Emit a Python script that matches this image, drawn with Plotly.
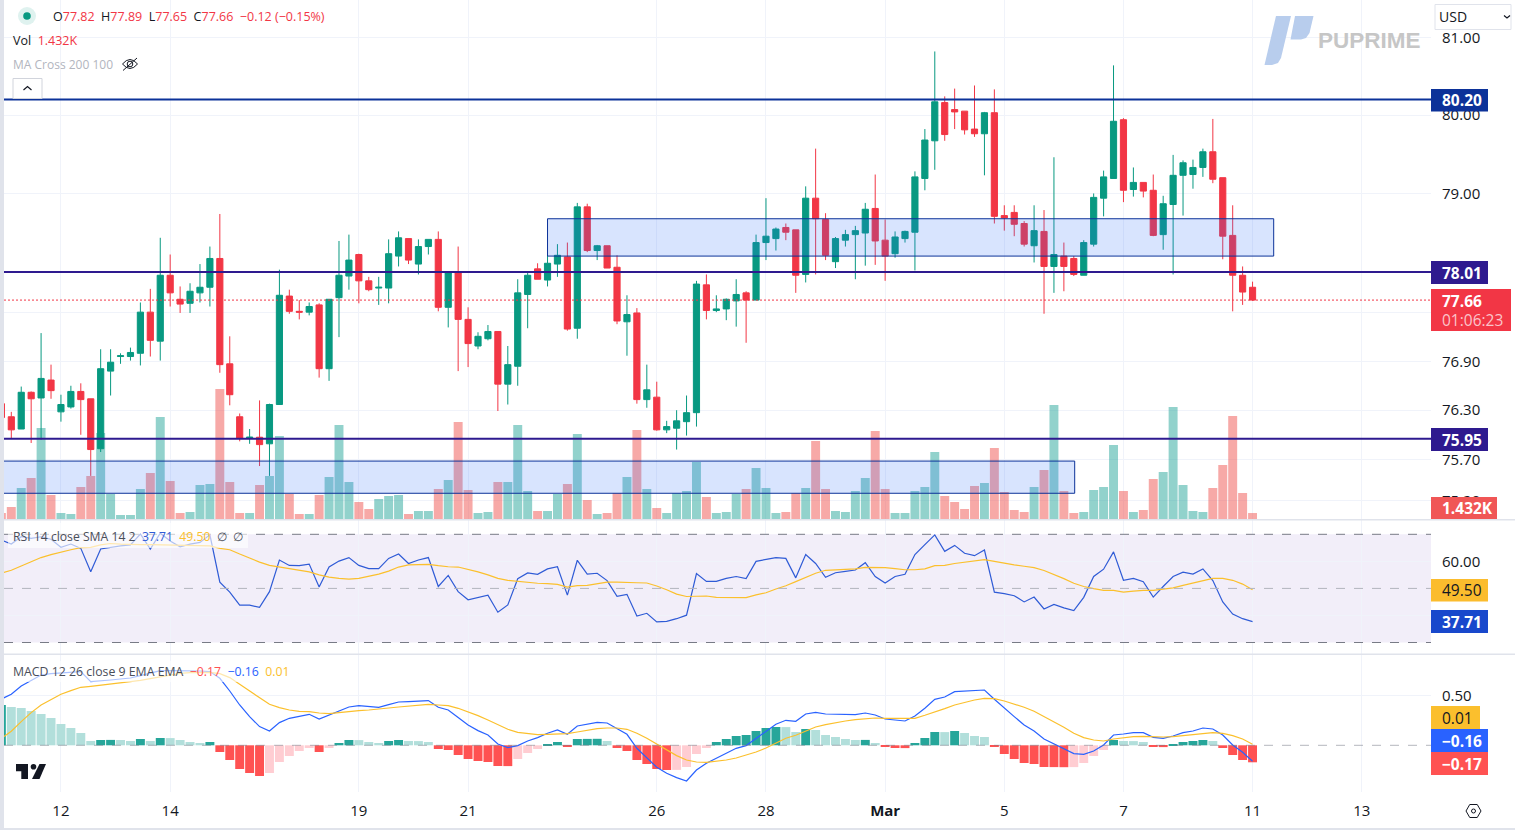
import math
import plotly.graph_objects as go

tick_idx = [5, 16, 35, 46, 65, 76, 88, 100, 112, 125, 136]
tick_txt = ["12", "14", "19", "21", "26", "28", "<b>Mar</b>", "5", "7", "11", "13"]

opens = [76.38,76.22,76.07,76.52,76.45,76.67,76.28,76.34,76.53,76.44,
 75.83,76.78,76.96,76.96,77.00,77.51,77.15,77.97,77.67,77.62,
 77.75,77.82,78.18,76.87,76.22,75.96,75.97,75.89,76.37,77.71,
 77.52,77.51,77.60,76.81,77.69,77.96,78.23,77.90,77.81,77.81,
 78.21,78.43,78.11,78.33,78.42,77.57,78.00,77.42,77.09,77.18,
 77.27,76.62,76.84,77.73,78.05,77.91,78.11,78.20,77.31,78.83,
 78.28,78.34,78.07,77.39,77.50,76.43,76.46,76.06,76.08,76.16,
 76.27,77.85,77.53,77.55,77.65,77.75,77.66,78.38,78.43,78.57,
 78.54,77.98,78.94,78.67,78.14,78.41,78.48,78.50,78.81,78.41,
 78.24,78.43,78.51,79.19,79.67,80.16,80.07,80.05,79.82,79.76,
 80.03,78.72,78.76,78.62,78.34,78.52,78.08,78.21,78.18,77.97,
 78.36,78.94,79.19,79.94,79.05,79.14,79.04,78.48,78.86,79.23,
 79.24,79.33,79.53,79.20,78.47,77.97,77.82]
highs = [76.40,76.28,76.59,76.53,77.25,76.86,76.49,76.60,76.63,76.44,
 77.05,77.05,77.00,77.07,77.63,77.80,78.44,78.23,77.83,77.87,
 78.11,78.33,78.74,77.21,76.26,76.07,76.42,76.38,78.04,77.79,
 77.66,77.63,77.62,77.67,78.40,78.48,78.24,77.95,77.95,78.42,
 78.52,78.43,78.42,78.42,78.52,78.02,78.33,77.57,77.26,77.35,
 77.27,77.09,77.92,78.02,78.12,78.22,78.36,78.38,78.88,78.87,
 78.35,78.34,78.22,77.72,77.56,76.86,76.65,76.17,76.30,76.48,
 77.90,77.98,77.72,77.68,77.92,77.77,78.48,78.94,78.57,78.62,
 78.54,79.09,79.57,78.75,78.45,78.54,78.59,78.88,79.24,78.67,
 78.52,78.53,79.28,79.82,80.82,80.24,80.34,80.05,80.38,80.04,
 80.33,78.85,78.85,78.65,78.85,78.79,79.46,78.38,78.21,78.41,
 79.00,79.29,80.64,79.96,79.33,79.14,79.24,78.97,79.49,79.42,
 79.43,79.57,79.95,79.20,78.85,78.08,77.89]
lows = [76.19,75.95,76.07,75.90,75.94,76.44,76.16,76.32,76.00,75.50,
 75.79,76.48,76.87,76.91,76.85,76.96,76.91,77.58,77.50,77.50,
 77.63,77.58,76.76,76.36,75.92,75.89,75.62,75.50,76.37,77.49,
 77.42,77.47,76.70,76.66,77.20,77.79,77.62,77.77,77.60,77.62,
 78.08,78.11,77.98,78.23,77.52,77.32,76.78,76.83,77.05,77.16,
 76.29,76.37,76.60,77.31,77.92,77.83,77.95,77.28,77.18,78.26,
 78.16,78.06,77.36,76.97,76.38,76.33,76.05,76.02,75.82,75.99,
 76.10,77.42,77.51,77.41,77.33,77.13,77.66,78.16,78.28,78.41,
 77.75,77.88,77.98,78.16,78.06,78.33,77.92,78.09,78.10,77.90,
 78.19,78.38,78.03,79.04,79.30,79.67,79.82,79.75,79.72,79.23,
 78.62,78.53,78.46,78.33,78.13,77.49,77.75,77.77,77.96,77.97,
 78.33,78.71,79.19,78.89,78.96,78.95,78.46,78.29,77.98,78.72,
 79.06,79.21,79.13,78.17,77.52,77.60,77.65]
closes = [76.21,76.06,76.52,76.44,76.69,76.54,76.37,76.53,76.43,75.82,
 76.81,76.89,76.97,77.01,77.51,77.16,77.97,77.75,77.61,77.77,
 77.82,78.18,76.86,76.49,75.96,75.97,75.88,76.37,77.72,77.52,
 77.51,77.58,76.81,77.67,77.97,78.16,77.90,77.79,77.82,78.24,
 78.44,78.16,78.33,78.42,77.57,78.00,77.42,77.12,77.21,77.27,
 76.62,76.86,77.75,77.97,77.92,78.12,78.22,77.30,78.83,78.28,
 78.34,78.06,77.40,77.48,76.43,76.55,76.06,76.10,76.17,76.27,
 77.86,77.53,77.55,77.67,77.73,77.66,78.38,78.46,78.55,78.51,
 77.97,78.94,78.68,78.22,78.43,78.48,78.53,78.80,78.40,78.21,
 78.45,78.52,79.21,79.68,80.17,79.75,80.04,79.81,79.76,80.03,
 78.71,78.69,78.61,78.36,78.53,78.08,78.23,78.08,77.98,78.38,
 78.95,79.21,79.92,79.04,79.14,79.03,78.47,78.87,79.23,79.39,
 79.33,79.53,79.18,78.46,77.97,77.76,77.66]
volumes = [1.44,2.88,7.44,9.84,21.84,5.76,1.44,1.2,7.68,10.32,
 20.64,6.0,0.96,0.96,7.2,11.04,24.48,9.12,1.44,1.68,
 8.16,8.4,31.2,8.88,1.44,1.44,8.16,10.32,19.92,6.0,
 1.2,1.2,5.76,10.08,22.56,8.88,4.08,2.4,4.8,5.52,
 5.76,1.2,1.92,1.92,7.2,9.36,23.28,6.96,1.44,1.68,
 8.88,8.88,22.56,6.72,1.92,1.92,6.0,8.4,20.4,4.56,
 1.2,1.44,6.24,10.08,21.36,7.2,2.64,1.44,6.24,6.72,
 13.68,5.28,1.44,1.68,6.0,7.2,12.24,7.44,1.44,1.68,
 6.24,7.44,18.72,7.2,1.92,1.68,6.72,9.84,21.12,7.2,
 1.44,1.44,6.72,7.68,16.08,5.52,4.08,2.4,7.92,8.64,
 17.04,6.48,2.16,1.68,7.68,11.76,27.36,6.72,1.44,1.68,
 6.96,7.68,17.76,6.72,1.68,2.16,9.6,11.28,26.88,8.16,
 1.92,1.68,7.44,12.96,24.72,6.24,1.432]
rsi = [67.9,66.4,69.1,68.5,69.1,68.2,65.2,66.4,64.8,56.2,
 64.6,65.2,65.7,66.1,70.1,64.5,70.4,67.5,65.4,66.4,
 67.0,69.8,52.3,48.6,43.8,43.8,43.0,48.8,60.5,58.5,
 58.4,59.0,50.5,57.9,60.1,61.4,58.5,57.3,57.3,61.1,
 62.7,59.2,60.5,61.4,50.7,54.8,48.8,45.8,46.7,47.5,
 41.2,43.9,53.6,55.7,55.2,57.2,58.0,47.5,60.4,55.3,
 55.6,52.9,47.1,47.8,39.8,40.8,37.6,37.8,38.8,40.1,
 55.5,52.6,52.6,53.7,54.4,53.6,60.0,60.6,61.4,61.1,
 53.9,62.5,59.2,54.1,55.8,56.3,56.8,59.5,54.4,52.0,
 54.4,55.2,62.5,66.2,69.8,63.7,65.9,63.0,62.1,64.2,
 48.6,48.1,47.3,45.0,46.8,42.4,44.1,42.8,41.8,46.7,
 54.4,57.1,63.5,53.0,53.7,52.5,46.8,50.7,54.4,56.0,
 55.3,57.2,52.9,45.0,40.5,38.8,37.71]
rsi_ma = [55.6,56.7,58.3,59.9,61.4,62.5,63.5,64.3,65.1,65.2,
 66.1,66.6,66.4,66.2,66.2,66.2,66.1,66.1,65.8,65.8,
 65.8,65.7,64.8,64.3,62.7,61.1,59.7,58.5,57.9,57.3,
 56.7,56.1,55.0,54.2,53.7,53.4,53.7,54.4,55.3,56.4,
 57.9,58.7,58.8,58.9,58.4,58.0,57.9,57.1,56.1,55.0,
 53.7,53.0,52.6,52.3,51.9,51.8,51.5,50.5,51.0,51.1,
 51.6,52.3,52.3,52.3,52.1,52.0,50.9,49.5,47.9,47.0,
 47.1,47.2,46.7,46.6,46.6,46.6,47.6,48.4,49.8,51.0,
 52.5,54.1,55.6,56.7,56.8,56.9,57.2,57.8,57.8,57.7,
 57.3,56.9,56.9,57.2,58.4,58.5,59.2,59.7,60.3,60.6,
 60.0,59.3,58.7,58.2,57.7,56.6,55.2,53.6,51.9,50.7,
 49.9,49.3,49.3,48.6,49.0,49.3,49.3,49.7,50.2,51.1,
 52.0,52.9,53.7,53.7,53.0,51.6,49.5]
macd_hist = [.403,.383,.373,.343,.313,.273,.213,.173,.123,.043,
 .053,.054,.053,.043,.063,.043,.073,.072,.053,.033,
 .023,.033,-.067,-.147,-.237,-.277,-.307,-.277,-.167,-.107,
 -.057,-.027,-.067,-.027,.023,.053,.052,.033,.023,.043,
 .053,.043,.042,.033,-.037,-.047,-.097,-.137,-.157,-.167,
 -.207,-.208,-.137,-.077,-.037,.010,.033,-.017,.063,.064,
 .065,.043,-.027,-.057,-.147,-.187,-.237,-.247,-.246,-.217,
 -.087,-.027,.033,.063,.093,.103,.143,.173,.183,.182,
 .133,.163,.153,.103,.083,.063,.053,.054,.023,-.017,
 -.027,-.028,.023,.073,.133,.132,.143,.123,.093,.083,
 -.017,-.087,-.137,-.177,-.187,-.217,-.218,-.219,-.218,-.177,
 -.107,-.047,.053,.043,.042,.033,-.017,-.018,.013,.033,
 .043,.053,.043,-.027,-.097,-.147,-.17]
macd_line = [.463,.510,.593,.650,.703,.717,.723,.730,.737,.637,
 .643,.653,.663,.673,.697,.720,.747,.747,.747,.747,
 .743,.737,.670,.543,.403,.287,.187,.143,.227,.270,
 .293,.310,.263,.303,.343,.383,.397,.390,.380,.407,
 .433,.437,.440,.447,.380,.353,.277,.203,.147,.103,
 .013,-.023,-.003,.043,.077,.120,.153,.110,.193,.213,
 .230,.223,.163,.110,-.030,-.123,-.220,-.280,-.323,-.357,
 -.247,-.180,-.130,-.073,-.030,-.003,.070,.137,.210,.250,
 .240,.313,.330,.313,.310,.307,.307,.323,.303,.263,
 .250,.243,.293,.370,.460,.483,.537,.543,.543,.553,
 .460,.370,.287,.203,.143,.063,.017,-.033,-.083,-.090,
 -.057,.003,.103,.113,.127,.127,.080,.070,.093,.127,
 .143,.173,.163,.103,.003,-.070,-.16]
macd_signal = [.070,.140,.237,.327,.403,.460,.510,.547,.580,.590,
 .600,.610,.623,.637,.650,.667,.683,.703,.720,.727,
 .730,.730,.717,.677,.610,.543,.470,.410,.377,.353,
 .340,.337,.323,.317,.327,.340,.347,.353,.360,.373,
 .383,.393,.403,.410,.403,.397,.370,.337,.297,.253,
 .203,.160,.130,.117,.107,.110,.117,.117,.133,.150,
 .167,.173,.173,.160,.120,.070,.010,-.047,-.103,-.147,
 -.167,-.170,-.160,-.147,-.127,-.100,-.067,-.027,.020,.070,
 .100,.143,.183,.207,.227,.243,.257,.267,.273,.270,
 .270,.267,.270,.300,.330,.367,.403,.430,.453,.470,
 .467,.443,.413,.380,.340,.287,.240,.180,.120,.077,
 .053,.043,.063,.077,.087,.090,.083,.083,.087,.097,
 .107,.117,.127,.120,.097,.063,.01]

for arr in (opens, highs, lows, closes, volumes, rsi, rsi_ma, macd_hist, macd_line, macd_signal):
    assert len(arr) == 127, len(arr)

idx = list(range(-1, 126))
price_ticks = [81, 80, 79, 78, 77.5, 76.9, 76.3, 75.7, 75.2]
price_tick_text = ["81.00", "80.00", "79.00", "", "", "76.90", "76.30", "75.70", "75.20"]
level_top, level_mid, level_low, last_price = 80.20, 78.01, 75.95, 77.66
zone_upper = (54, 127.13, 78.21, 78.68)
zone_lower = (-1, 107.09, 75.29, 75.68)

W, H = 1515, 830
FONT = "Open Sans"
px = lambda x: x / W
py = lambda y: 1 - y / H
PANE_R = 1431

GREEN, RED = "#089981", "#F23645"
vol_colors = ["rgba(38,166,154,0.5)" if c >= o else "rgba(239,83,80,0.5)" for o, c in zip(opens, closes)]
hist_colors = []
for k, v in enumerate(macd_hist):
    prev = macd_hist[k - 1] if k else v - 1
    if v >= 0:
        hist_colors.append("#26A69A" if v > prev else "#B2DFDB")
    else:
        hist_colors.append("#FFCDD2" if v > prev else "#FF5252")

fig = go.Figure()
fig.add_trace(go.Bar(x=idx, y=volumes, marker=dict(color=vol_colors, line_width=0), width=0.9, xaxis="x", yaxis="y"))
fig.add_trace(go.Candlestick(x=idx, open=opens, high=highs, low=lows, close=closes, xaxis="x", yaxis="y2",
    increasing=dict(line=dict(color=GREEN, width=1), fillcolor=GREEN),
    decreasing=dict(line=dict(color=RED, width=1), fillcolor=RED), whiskerwidth=0))
fig.add_trace(go.Scatter(x=idx, y=rsi, mode="lines", line=dict(color="#2F5BD6", width=1.2), xaxis="x2", yaxis="y3"))
fig.add_trace(go.Scatter(x=idx, y=rsi_ma, mode="lines", line=dict(color="#FBC02D", width=1.2), xaxis="x2", yaxis="y3"))
fig.add_trace(go.Bar(x=idx, y=macd_hist, marker=dict(color=hist_colors, line_width=0), width=0.9, xaxis="x3", yaxis="y4"))
fig.add_trace(go.Scatter(x=idx, y=macd_line, mode="lines", line=dict(color="#2962FF", width=1.2), xaxis="x3", yaxis="y4"))
fig.add_trace(go.Scatter(x=idx, y=macd_signal, mode="lines", line=dict(color="#FBC02D", width=1.2), xaxis="x3", yaxis="y4"))

shapes, ann = [], []

def box(x0, y0, x1, y1, fill, line="rgba(0,0,0,0)", lw=0, layer="above"):
    shapes.append(dict(type="rect", xref="paper", yref="paper", x0=px(x0), x1=px(x1), y0=py(y1), y1=py(y0),
                       fillcolor=fill, line=dict(color=line, width=lw), layer=layer))

def poly(points, fill=None, line=None, lw=1, close=True):
    d = "M " + " L ".join(f"{px(a):.5f} {py(b):.5f}" for a, b in points) + (" Z" if close else "")
    shapes.append(dict(type="path", xref="paper", yref="paper", path=d, fillcolor=fill or "rgba(0,0,0,0)",
                       line=dict(color=line or "rgba(0,0,0,0)", width=lw if line else 0), layer="above"))

def circle(cx, cy, r, fill=None, line=None, lw=1):
    shapes.append(dict(type="circle", xref="paper", yref="paper", x0=px(cx - r), x1=px(cx + r), y0=py(cy + r), y1=py(cy - r),
                       fillcolor=fill or "rgba(0,0,0,0)", line=dict(color=line or "rgba(0,0,0,0)", width=lw if line else 0), layer="above"))

def text(x, y, s, size=12, color="#131722", anchor="left", family=FONT):
    ann.append(dict(xref="paper", yref="paper", x=px(x), y=py(y), text=s, showarrow=False, xanchor=anchor, yanchor="middle",
                    borderpad=0, borderwidth=0, font=dict(family=family, size=size, color=color), align="left"))

def hline(y, color, width, dash="solid", yref="y2", x1=PANE_R):
    shapes.append(dict(type="line", xref="paper", yref=yref, x0=px(4), x1=px(x1), y0=y, y1=y,
                       line=dict(color=color, width=width, dash=dash), layer="above"))

def tag(x1, y0, y1, color, label, fg="#FFFFFF", size=15.5):
    box(PANE_R, y0, x1, y1, color)
    text(1442, (y0 + y1) / 2, f"<b>{label}</b>" if fg == "#FFFFFF" else label, size=size, color=fg)

# RSI band and reference levels
shapes.append(dict(type="rect", xref="paper", yref="y3", x0=px(4), x1=px(PANE_R), y0=30, y1=70,
                   fillcolor="rgba(126,87,194,0.1)", line_width=0, layer="below"))
hline(70, "#787B86", 1, "dash", "y3")
hline(30, "#787B86", 1, "dash", "y3")
hline(50, "#B2B5BE", 1, "dash", "y3")
hline(0, "rgba(120,123,134,0.55)", 1, "dash", "y4")

# zones and price levels
for z in (zone_upper, zone_lower):
    shapes.append(dict(type="rect", xref="x", yref="y2", x0=z[0], x1=z[1], y0=z[2], y1=z[3],
                       fillcolor="rgba(50,110,250,0.19)", line=dict(color="#0C3299", width=1), layer="above"))
hline(last_price, RED, 1, "2px,2px")
hline(level_top, "#0C3299", 2)
hline(level_mid, "#2E1A8F", 2)
hline(level_low, "#2E1A8F", 2)

# frame
box(0, 0, 4, H, "#E0E3EB")
box(4, 519, W, 520.5, "#E0E3EB")
box(4, 653.5, W, 655, "#E0E3EB")
box(0, 828, W, H, "#E0E3EB")

# right-side tags
tag(1488, 89, 111.5, "#0C3299", "80.20")
tag(1488, 261, 284, "#2E1A8F", "78.01")
box(PANE_R, 289, 1511, 331, RED)
text(1442, 301, "<b>77.66</b>", size=15.5, color="#FFFFFF")
text(1442, 320, "01:06:23", size=15.5, color="#FBC4CA")
tag(1488, 428, 451, "#2E1A8F", "75.95")
tag(1497, 497, 519, "#F05656", "1.432K")
tag(1488, 579, 601.5, "#FBBC2D", "49.50", fg="#131722")
tag(1488, 610, 633, "#1848CC", "37.71")
tag(1480, 706, 729, "#FBBF2D", "0.01", fg="#131722")
tag(1488, 729, 752, "#2962FF", "\u22120.16")
tag(1488, 752, 775, "#FF5252", "\u22120.17")

# header
circle(27, 16, 9, fill="rgba(8,153,129,0.13)")
circle(27, 16, 3.8, fill=GREEN)
r = '<span style="color:#F23645">'
text(53, 16, f"O{r}77.82</span>  H{r}77.89</span>  L{r}77.65</span>  C{r}77.66</span>  {r}\u22120.12 (\u22120.15%)</span>", size=12.5, color="#131722")
text(13, 40, f"Vol  {r}1.432K</span>", size=12.5, color="#131722")
text(13, 64, "MA Cross 200 100", size=12, color="#B2B5BE")
shapes.append(dict(type="path", xref="paper", yref="paper", layer="above", line=dict(color="#131722", width=1),
    path=f"M {px(122.5):.5f} {py(64):.5f} Q {px(130):.5f} {py(55):.5f} {px(137.5):.5f} {py(64):.5f} Q {px(130):.5f} {py(73):.5f} {px(122.5):.5f} {py(64):.5f} Z"))
circle(130, 64, 2.8, line="#131722")
poly([(123, 70.5), (137, 58)], line="#131722", close=False)
shapes.append(dict(type="rect", xref="paper", yref="paper", x0=px(13), x1=px(42), y0=py(98.5), y1=py(78.5), fillcolor="#FFFFFF",
                   line=dict(color="#D1D4DC", width=1), layer="above"))
poly([(23.5, 90), (27.5, 86.5), (31.5, 90)], line="#131722", lw=1.2, close=False)

# USD selector
shapes.append(dict(type="rect", xref="paper", yref="paper", x0=px(1435), x1=px(1511), y0=py(29.5), y1=py(4.5), fillcolor="#FFFFFF",
                   line=dict(color="#E0E3EB", width=1), layer="above"))
text(1439, 17, "USD", size=14, color="#131722")
poly([(1504, 15.5), (1507, 18), (1510, 15.5)], line="#131722", lw=1.2, close=False)

# brand mark
poly([(1276, 16), (1264.5, 65), (1272, 65), (1278, 63), (1281, 58), (1291, 16)], fill="#B8CDED")
poly([(1295, 16), (1313.5, 16), (1309.5, 33), (1306, 38), (1301, 39.5), (1290.5, 39.5)], fill="#B8CDED")
text(1318, 40, "<b>PUPRIME</b>", size=22.5, color="#C6C6C6", family="Liberation Sans")

# RSI legend
box(8, 523, 248, 548, "rgba(255,255,255,0.62)")
text(13, 536, 'RSI 14 close SMA 14 2  <span style="color:#2F5BD6">37.71</span>  <span style="color:#FBC02D">49.50</span>  \u2205  \u2205', size=12.2, color="#4A4E59")
# MACD legend
box(8, 661, 292, 682, "rgba(255,255,255,0.62)")
text(13, 671, 'MACD 12 26 close 9 EMA EMA  <span style="color:#FF5252">\u22120.17</span>  <span style="color:#2962FF">\u22120.16</span>  <span style="color:#FBC02D">0.01</span>', size=12.3, color="#4A4E59")

# chart vendor mark
poly([(16, 764), (28, 764), (28, 779), (21.3, 779), (21.3, 771.3), (16, 771.3)], fill="#131722")
circle(33.5, 766.8, 2.8, fill="#131722")
poly([(39.5, 764), (46, 764), (39.5, 779), (32, 779)], fill="#131722")

# settings icon
hexa = [(1473.5 + 7.5 * math.cos(math.radians(a)), 811 + 7.5 * math.sin(math.radians(a))) for a in (0, 60, 120, 180, 240, 300)]
poly(hexa, line="#131722", lw=1)
circle(1473.5, 811, 2, line="#131722")

dom = [px(4), px(PANE_R)]
xr = [(4 - 11.3) / 9.93, (PANE_R - 11.3) / 9.93]
grid = "#F0F3FA"
xbase = dict(domain=dom, range=xr, tickmode="array", tickvals=tick_idx, ticktext=tick_txt, showgrid=True, gridcolor=grid, gridwidth=1,
             zeroline=False, ticklen=0, showline=False, rangeslider=dict(visible=False))
tickfont = dict(family=FONT, size=15, color="#131722")
ybase = dict(side="right", showgrid=True, gridcolor=grid, gridwidth=1, zeroline=False, ticklen=0, showline=False,
             tickfont=tickfont, ticklabelstandoff=10, tickmode="array")

fig.update_layout(
    width=W, height=H, margin=dict(l=0, r=0, t=0, b=0), paper_bgcolor="#FFFFFF", plot_bgcolor="#FFFFFF",
    showlegend=False, barmode="overlay", boxgap=0.38, boxgroupgap=0, hovermode=False,
    xaxis=dict(**xbase, anchor="y", showticklabels=False),
    xaxis2=dict(**xbase, anchor="y3", matches="x", showticklabels=False),
    xaxis3=dict(**xbase, anchor="y4", matches="x", showticklabels=True, tickfont=tickfont, ticklabelstandoff=8),
    yaxis=dict(domain=[py(519), 1], range=[0, 124.56], visible=False, showgrid=False),
    yaxis2=dict(**ybase, overlaying="y", anchor="x", type="log",
                range=[math.log10(74.98), math.log10(81.49)], tickvals=price_ticks,
                ticktext=price_tick_text),
    yaxis3=dict(**ybase, domain=[py(654), py(520)], anchor="x2", range=[25.75, 75.29], tickvals=[40, 60], ticktext=["", "60.00"]),
    yaxis4=dict(**ybase, domain=[py(792), py(655)], anchor="x3", range=[-0.467, 0.903], tickvals=[0.5], ticktext=["0.50"]),
    shapes=shapes, annotations=ann,
)

fig.write_html("out.html", config=dict(displayModeBar=False),
               post_script="document.body.style.margin='0';document.body.style.overflow='hidden';")
